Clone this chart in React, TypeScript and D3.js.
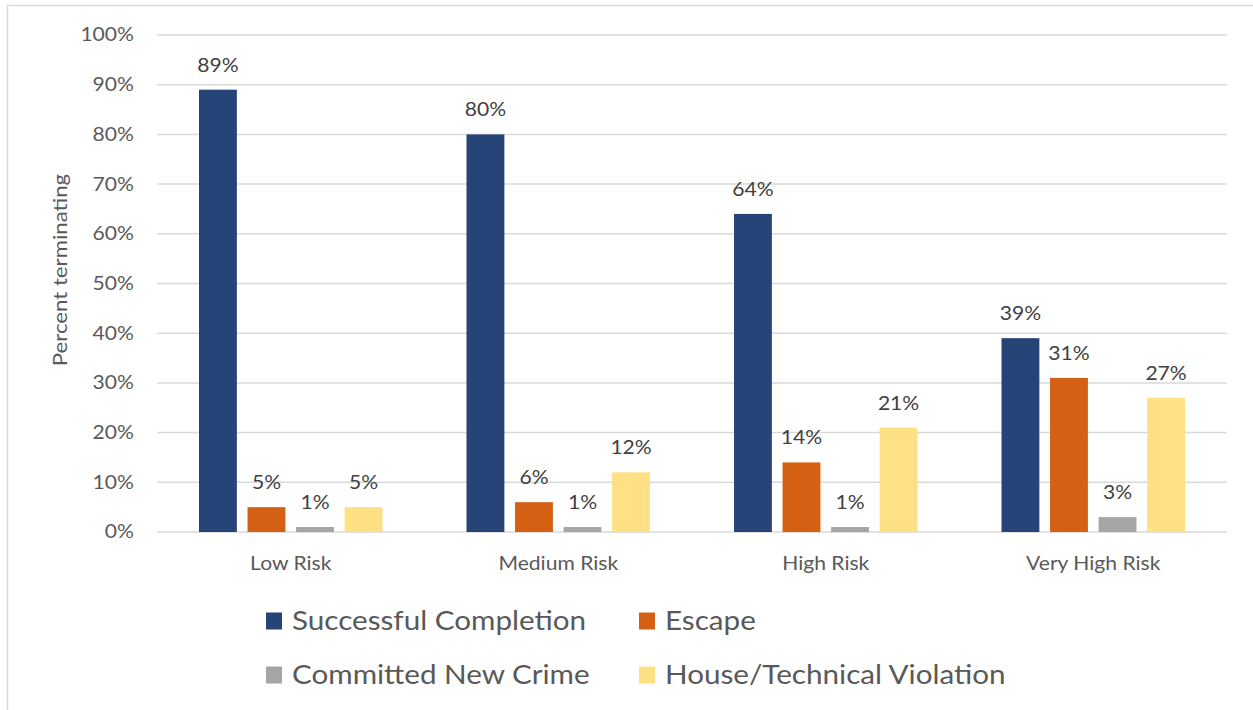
import React from "react";
import * as d3 from "d3";

const categories = ["Low Risk", "Medium Risk", "High Risk", "Very High Risk"];
const seriesNames = ["Successful Completion", "Escape", "Committed New Crime", "House/Technical Violation"];
const successful = [89, 80, 64, 39];
const escape = [5, 6, 14, 31];
const newCrime = [1, 1, 1, 3];
const houseViolation = [5, 12, 21, 27];
const yTicks = [0, 10, 20, 30, 40, 50, 60, 70, 80, 90, 100];
const colors = ["#264478", "#D46014", "#A5A5A5", "#FFE085"];

const W = 1253;
const H = 710;
const plot = { left: 157, right: 1227, top: 35, bottom: 532 };
const FONT = "Lato, 'Open Sans', sans-serif";
const SX = 1.14;

function SText(props: {
  x: number;
  y: number;
  anchor?: "start" | "middle" | "end";
  size: number;
  fill: string;
  rotate?: number;
  dy?: string;
  children: React.ReactNode;
}) {
  const { x, y, anchor = "start", size, fill, rotate = 0, dy, children } = props;
  return (
    <g transform={`translate(${x},${y}) rotate(${rotate}) scale(${SX},1)`}>
      <text x={0} y={0} dy={dy} textAnchor={anchor} fontSize={size} fill={fill}>
        {children}
      </text>
    </g>
  );
}

export default function App() {
  const series = [successful, escape, newCrime, houseViolation];
  const x0 = d3.scaleBand<string>().domain(categories).range([plot.left, plot.right]).padding(0);
  const x1 = d3
    .scaleBand<number>()
    .domain(d3.range(seriesNames.length))
    .range([42, x0.bandwidth() - 42])
    .paddingInner(0.22)
    .paddingOuter(0);
  const y = d3.scaleLinear().domain([0, 100]).range([plot.bottom, plot.top]);

  const legendRows = [
    [0, 1],
    [2, 3],
  ];
  const legendColX = [266, 639];
  const legendRowY = [621, 675];

  return (
    <svg
      width={W}
      height={H}
      style={{ position: "absolute", left: 0, top: 0, background: "#fff" }}
      fontFamily={FONT}
    >
      <rect x={0} y={0} width={W} height={H} fill="#fff" />
      <rect x={7.5} y={5.5} width={W + 10} height={H + 10} fill="none" stroke="#D9D9D9" strokeWidth={1.5} />
      {yTicks.map((t) => (
        <g key={t}>
          <line x1={plot.left} x2={plot.right} y1={y(t)} y2={y(t)} stroke="#D9D9D9" strokeWidth={1.5} />
          <SText x={134} y={y(t)} dy="0.35em" anchor="end" size={18.5} fill="#595959">
            {t}%
          </SText>
        </g>
      ))}
      <SText x={67} y={270} rotate={-90} anchor="middle" size={19.5} fill="#595959">
        Percent terminating
      </SText>
      {categories.map((c, ci) => (
        <g key={c} transform={`translate(${x0(c)},0)`}>
          {series.map((s, si) => {
            const bx = x1(si)!;
            const v = s[ci];
            return (
              <g key={si}>
                <rect
                  x={bx}
                  y={y(v)}
                  width={x1.bandwidth()}
                  height={plot.bottom - y(v)}
                  fill={colors[si]}
                />
                <SText x={bx + x1.bandwidth() / 2} y={y(v) - 18} anchor="middle" size={18.5} fill="#404040">
                  {v}%
                </SText>
              </g>
            );
          })}
          <SText x={x0.bandwidth() / 2} y={570} anchor="middle" size={18.5} fill="#595959">
            {c}
          </SText>
        </g>
      ))}
      {legendRows.map((row, ri) =>
        row.map((si, ci) => (
          <g key={si} transform={`translate(${legendColX[ci]},${legendRowY[ri]})`}>
            <rect x={0} y={-8.5} width={16} height={17} fill={colors[si]} />
            <SText x={26} y={0} dy="0.35em" size={26} fill="#595959">
              {seriesNames[si]}
            </SText>
          </g>
        ))
      )}
    </svg>
  );
}
